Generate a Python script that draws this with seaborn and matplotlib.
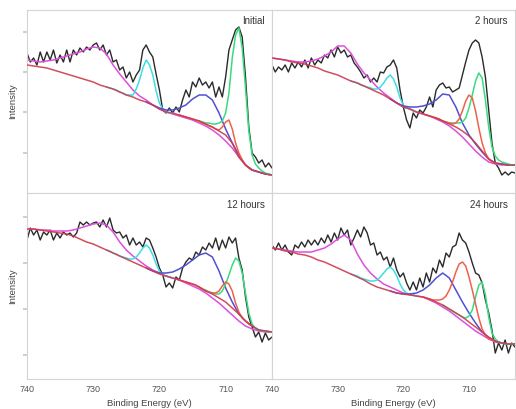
import numpy as np
import matplotlib
matplotlib.use("Agg")
import matplotlib.pyplot as plt
import seaborn as sns

# energy grids (binding energy, eV)
e_fine = np.arange(740, 702.9, -0.5)      # raw spectra
e_coarse = np.arange(740, 702.9, -1.0)    # background + broad satellite
e_blue = np.arange(722, 702.9, -1.0)
e_cyan = np.arange(728, 717.9, -0.5)
e_red = np.arange(717, 705.9, -0.5)
e_green = np.arange(714, 702.9, -0.5)

panel_labels = ["Initial", "2 hours", "12 hours", "24 hours"]

# ---- Initial ----
raw_initial = [140, 131, 135, 128, 141, 131, 141, 133, 143, 130,
               138, 131, 143, 131, 143, 138, 145, 141, 146, 143,
               148, 150, 143, 148, 138, 143, 131, 133, 123, 126,
               115, 121, 111, 118, 123, 143, 148, 141, 136, 119,
               103, 83, 80, 85, 80, 86, 81, 93, 103, 96,
               111, 106, 115, 108, 111, 105, 111, 96, 106, 96,
               116, 143, 153, 163, 166, 156, 116, 66, 40, 36,
               30, 33, 26, 30, 25]
bg_initial = [128, 127, 126, 125, 123, 121, 119, 117, 115, 113,
              111, 108, 106, 104, 101, 98, 96, 93, 91, 88,
              84, 81, 80, 78, 76, 74, 72, 69, 66, 62,
              58, 50, 36, 28, 23, 21, 19, 18]
mag_initial = [133, 132, 131, 132, 133, 135, 137, 139, 141, 144,
               146, 145, 139, 128, 119, 111, 103, 97, 93, 88,
               84, 81, 79, 77, 75, 73, 70, 67, 63, 58,
               52, 45, 36, 28, 23, 21, 19, 18]
blue_initial = [91, 88, 85, 83, 83, 85, 88, 94, 98, 98,
                93, 80, 64, 50, 38, 28, 23, 21, 19, 18]
cyan_initial = [106, 105, 104, 103, 101, 100, 98, 98, 98, 104,
                113, 125, 133, 128, 118, 102, 90, 84, 81, 80, 80]
red_initial = [78, 77, 76, 75, 74, 73, 72, 70, 69, 67, 66, 64,
               63, 66, 71, 73, 64, 50, 40, 33, 28, 25, 23]
green_initial = [72, 71, 70, 70, 69, 69, 70, 72, 80, 100,
                 135, 158, 165, 145, 105, 62, 38, 29, 25, 22,
                 20, 19, 18]

# ---- 2 hours ----
raw_2h = [128, 121, 126, 123, 128, 121, 130, 125, 131, 126,
          133, 125, 135, 128, 133, 130, 138, 135, 143, 136,
          146, 140, 143, 136, 138, 130, 126, 121, 115, 118,
          111, 115, 111, 121, 120, 126, 128, 133, 125, 103,
          86, 73, 65, 80, 75, 83, 80, 86, 96, 86,
          103, 108, 110, 105, 106, 101, 103, 105, 118, 131,
          143, 150, 153, 150, 136, 116, 83, 50, 30, 25,
          18, 21, 18, 21, 20]
bg_2h = [135, 134, 133, 131, 130, 129, 127, 125, 122, 120,
         118, 115, 112, 110, 107, 104, 101, 98, 94, 90,
         86, 84, 81, 79, 77, 75, 72, 69, 66, 62,
         57, 50, 42, 34, 30, 29, 28, 28]
mag_2h = [135, 134, 133, 132, 131, 131, 132, 134, 137, 141,
          147, 147, 140, 129, 120, 113, 106, 100, 95, 90,
          86, 84, 81, 79, 77, 74, 71, 67, 62, 56,
          49, 42, 36, 31, 29, 28, 28, 28]
blue_2h = [94, 90, 87, 86, 86, 87, 89, 93, 99, 98,
           86, 70, 58, 49, 41, 34, 30, 29, 28, 28]
cyan_2h = [112, 111, 110, 108, 107, 106, 105, 104, 104, 106,
           110, 115, 118, 114, 106, 95, 88, 85, 84, 82, 81]
red_2h = [79, 78, 77, 76, 75, 74, 72, 71, 70, 69, 70, 74,
          82, 92, 98, 95, 82, 65, 50, 40, 34, 31, 30]
green_2h = [72, 71, 70, 70, 70, 70, 71, 75, 85, 98,
            112, 120, 115, 93, 66, 46, 37, 33, 31, 30,
            29, 28, 28]

# ---- 12 hours ----
raw_12h = [139, 151, 144, 149, 139, 147, 144, 149, 139, 146,
           141, 147, 144, 146, 142, 146, 157, 154, 157, 154,
           156, 157, 152, 159, 152, 161, 149, 146, 147, 141,
           144, 134, 141, 134, 137, 132, 141, 139, 131, 122,
           111, 104, 92, 96, 91, 102, 99, 111, 117, 121,
           119, 127, 124, 132, 129, 136, 131, 141, 129, 139,
           131, 142, 136, 141, 121, 109, 82, 62, 52, 42,
           47, 37, 46, 39, 42]
bg_12h = [150, 150, 149, 148, 147, 146, 145, 143, 140, 137,
          135, 132, 129, 126, 123, 120, 117, 114, 111, 108,
          105, 103, 101, 99, 97, 95, 92, 88, 85, 81,
          77, 71, 65, 58, 53, 49, 48, 47]
mag_12h = [150, 150, 149, 149, 148, 148, 148, 149, 151, 153,
           155, 156, 154, 147, 137, 129, 123, 118, 113, 109,
           106, 103, 101, 99, 96, 93, 90, 86, 81, 76,
           70, 64, 58, 53, 50, 48, 47, 47]
blue_12h = [111, 108, 106, 106, 107, 110, 114, 119, 124, 126,
            122, 108, 91, 77, 65, 58, 53, 49, 48, 47]
cyan_12h = [129, 128, 126, 125, 123, 122, 121, 120, 120, 122,
            126, 131, 134, 131, 124, 115, 108, 104, 103, 102, 101]
red_12h = [99, 98, 97, 96, 95, 94, 92, 90, 88, 87, 86, 86,
           88, 93, 97, 95, 88, 76, 67, 61, 58, 55, 53]
green_12h = [92, 90, 89, 87, 86, 85, 85, 88, 95, 104,
             114, 121, 118, 106, 86, 66, 55, 51, 49, 48,
             48, 47, 47]

# ---- 24 hours ----
raw_24h = [134, 129, 136, 129, 134, 127, 124, 134, 131, 137,
           132, 139, 134, 139, 134, 141, 136, 144, 137, 146,
           139, 151, 144, 149, 134, 141, 149, 142, 152, 146,
           134, 136, 124, 127, 119, 122, 112, 121, 109, 102,
           106, 96, 89, 97, 89, 101, 92, 106, 97, 111,
           106, 119, 112, 126, 122, 132, 134, 146, 139, 136,
           127, 116, 106, 104, 96, 79, 66, 49, 26, 36,
           29, 39, 26, 36, 32]
bg_24h = [131, 130, 128, 127, 125, 124, 122, 119, 117, 114,
          111, 108, 105, 102, 99, 95, 92, 90, 88, 86,
          85, 84, 83, 82, 80, 77, 74, 70, 66, 62,
          57, 52, 47, 42, 38, 36, 35, 35]
mag_24h = [131, 130, 129, 128, 127, 127, 127, 129, 131, 135,
           140, 144, 139, 125, 114, 106, 100, 95, 92, 89,
           86, 85, 83, 82, 79, 76, 72, 68, 63, 58,
           53, 48, 44, 40, 37, 36, 35, 35]
blue_24h = [88, 86, 85, 85, 86, 89, 94, 101, 106, 101,
            89, 77, 66, 56, 47, 41, 38, 36, 35, 35]
cyan_24h = [105, 104, 103, 101, 100, 99, 98, 98, 99, 102,
            106, 110, 112, 109, 103, 95, 89, 86, 84, 84, 83]
red_24h = [82, 81, 80, 79, 79, 79, 80, 83, 89, 97, 107, 115,
           117, 113, 102, 89, 75, 61, 50, 44, 40, 39, 38]
green_24h = [74, 72, 70, 68, 66, 64, 62, 61, 63, 69,
             82, 94, 97, 84, 62, 46, 40, 37, 36, 35,
             35, 35, 35]

panels = [
    (raw_initial, bg_initial, mag_initial, cyan_initial, blue_initial, red_initial, green_initial),
    (raw_2h, bg_2h, mag_2h, cyan_2h, blue_2h, red_2h, green_2h),
    (raw_12h, bg_12h, mag_12h, cyan_12h, blue_12h, red_12h, green_12h),
    (raw_24h, bg_24h, mag_24h, cyan_24h, blue_24h, red_24h, green_24h),
]

sns.set_theme(style="white")
plt.rcParams["font.family"] = ["Liberation Sans", "DejaVu Sans"]

fig = plt.figure(figsize=(5.16, 4.09), dpi=100)
boxes = [
    [0.0523, 0.5281, 0.4748, 0.4475],
    [0.5271, 0.5281, 0.4709, 0.4475],
    [0.0523, 0.0733, 0.4748, 0.4548],
    [0.5271, 0.0733, 0.4709, 0.4548],
]
ylims = [(0, 183), (0, 183), (0, 186), (0, 186)]

c_raw = "#2a2a2a"
c_bg = "#cc3b4c"
c_mag = "#dd4fdd"
c_cyan = "#3ddde6"
c_blue = "#5050d2"
c_red = "#f0604a"
c_green = "#38dc80"

for i, (raw, bg, mag, cyan, blue, red, green) in enumerate(panels):
    ax = fig.add_axes(boxes[i])
    lw = 1.1
    sns.lineplot(x=e_fine, y=raw, ax=ax, color=c_raw, linewidth=1.0, zorder=1)
    sns.lineplot(x=e_coarse, y=mag, ax=ax, color=c_mag, linewidth=lw, zorder=2)
    sns.lineplot(x=e_cyan, y=cyan, ax=ax, color=c_cyan, linewidth=lw, zorder=3)
    sns.lineplot(x=e_blue, y=blue, ax=ax, color=c_blue, linewidth=lw, zorder=3)
    sns.lineplot(x=e_green, y=green, ax=ax, color=c_green, linewidth=lw, zorder=3)
    sns.lineplot(x=e_red, y=red, ax=ax, color=c_red, linewidth=lw, zorder=4)
    sns.lineplot(x=e_coarse, y=bg, ax=ax, color=c_bg, linewidth=lw, zorder=4, alpha=0.9)

    ax.set_xlim(740, 703)
    ax.set_ylim(*ylims[i])
    ax.set_xlabel("")
    ax.set_ylabel("")
    for sp in ax.spines.values():
        sp.set_color("#d4d4d4")
        sp.set_linewidth(0.8)

    ax.set_xticks([740, 730, 720, 710])
    ax.set_xticks([735, 725, 715, 705], minor=True)
    ax.tick_params(axis="x", which="both", direction="in", length=2,
                   color="#cccccc", labelsize=6.5, labelcolor="#555555", pad=4)
    if i < 2:
        ax.tick_params(axis="x", labelbottom=False)
    else:
        ax.set_xlabel("Binding Energy (eV)", fontsize=6.8, color="#444444", labelpad=4)

    if i % 2 == 0:
        ax.set_yticks([40, 81, 121, 161] if i == 0 else [24, 70, 116, 162])
        ax.tick_params(axis="y", left=True, direction="out", length=3,
                       color="#c8c8c8", labelleft=False)
        ax.set_ylabel("Intensity", fontsize=6.8, color="#444444", labelpad=4)
    else:
        ax.set_yticks([])

    ax.text(0.97, 0.965, panel_labels[i], transform=ax.transAxes,
            ha="right", va="top", fontsize=7, color="#333333")

fig.savefig("out.png", dpi=100)
